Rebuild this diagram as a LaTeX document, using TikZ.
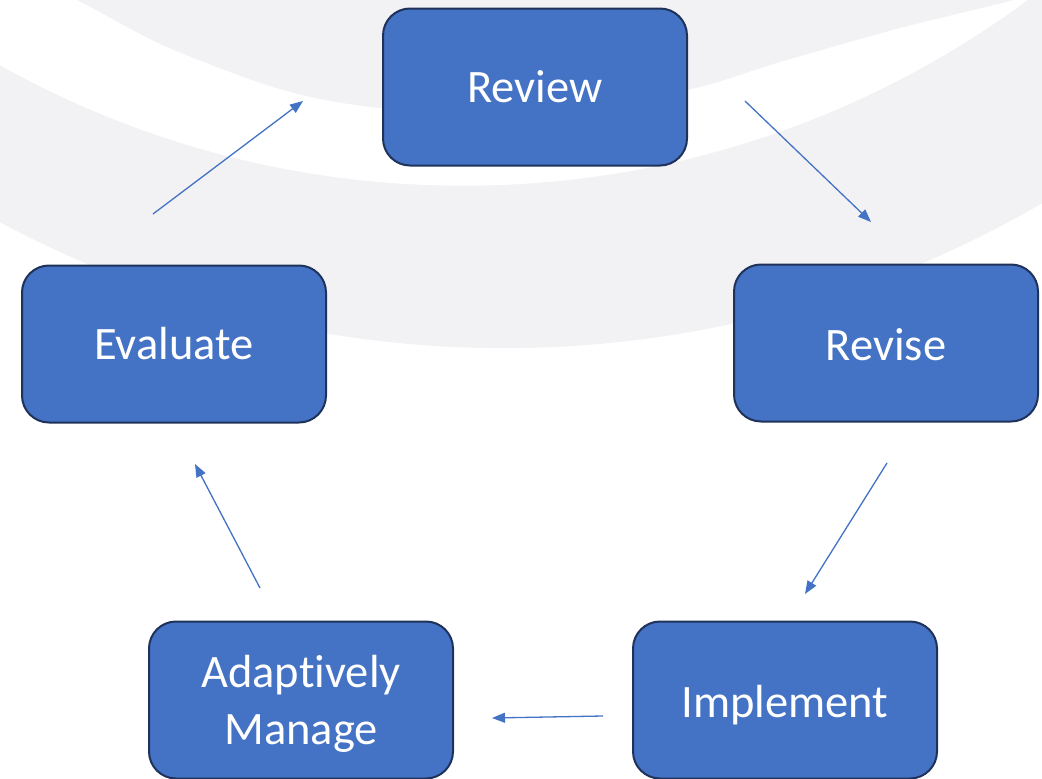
\documentclass[tikz,border=0pt]{standalone}
\usepackage{fontspec}
\setmainfont{Carlito}[Ligatures={NoCommon}]
\usetikzlibrary{arrows.meta}
\definecolor{bggray}{RGB}{242,242,244}
\definecolor{boxfill}{RGB}{68,114,196}
\definecolor{boxline}{RGB}{31,50,90}
\definecolor{arrowcol}{RGB}{68,114,196}
\newcommand{\lowertext}[2]{\raisebox{-#1}[\height][\depth]{#2}}
\begin{document}
\begin{tikzpicture}[x=1pt,y=-1pt,
  stepbox/.style={draw=boxline, line width=2pt, fill=boxfill, rounded corners=27pt,
    minimum width=304pt, minimum height=157pt, text=white,
    font=\fontsize{46.5}{57}\selectfont, align=center, inner sep=0pt},
  flow/.style={draw=arrowcol, line width=1.3pt, -{Triangle[length=13pt,width=10pt]}}]
\useasboundingbox (0,0) rectangle (1042,779);
\clip (0,0) rectangle (1042,779);
% background swoosh
\fill[white] (0,0) rectangle (1042,779);
\fill[bggray] (504,-722.5) circle (1070.6);
\fill[white] (463.4,-764) circle (949.7);
\fill[bggray] plot[smooth] coordinates {(10,-30) (77,0) (167,47) (283,90) (380,108) (530,116) (687,90) (780,62) (900,28) (1013,0) (1070,-20)}
  -- (1070,-40) -- (10,-40) -- cycle;
% boxes
\node[stepbox] (review) at (535,87) {Review};
\node[stepbox] (revise) at (886,343) {\lowertext{2pt}{Revise}};
\node[stepbox] (implement) at (785,700) {\lowertext{5pt}{Implement}};
\node[stepbox] (adapt) at (301,700) {\lowertext{5pt}{\begin{tabular}{@{}c@{}}Adaptively\\Manage\end{tabular}}};
\node[stepbox] (evaluate) at (174,344) {Evaluate};
% arrow ends
\coordinate (a1s) at (745,101); \coordinate (a1e) at (871,222);
\coordinate (a2s) at (887,463); \coordinate (a2e) at (805,594);
\coordinate (a3s) at (603,716); \coordinate (a3e) at (492,718);
\coordinate (a4s) at (260,588); \coordinate (a4e) at (195,464);
\coordinate (a5s) at (153,214); \coordinate (a5e) at (303,101);
\draw[flow] (a1s) -- (a1e);
\draw[flow] (a2s) -- (a2e);
\draw[flow] (a3s) -- (a3e);
\draw[flow] (a4s) -- (a4e);
\draw[flow] (a5s) -- (a5e);
\end{tikzpicture}
\end{document}
